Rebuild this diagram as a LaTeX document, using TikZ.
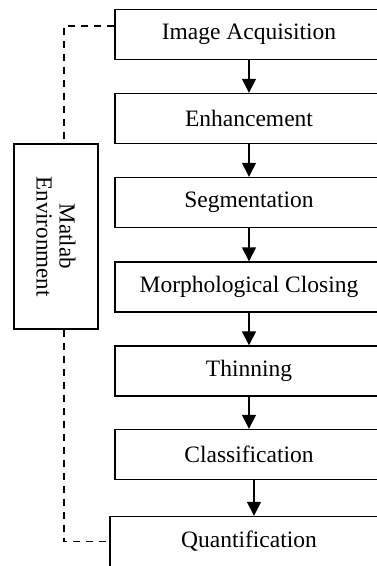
\documentclass[tikz,border=0pt]{standalone}
\usepackage{fontspec}
\setmainfont{Liberation Serif}
\usetikzlibrary{arrows.meta,calc}
\begin{document}
\begin{tikzpicture}[x=1pt,y=-1pt,
  stage/.style={draw, line width=1.4pt, minimum width=268pt, minimum height=50pt, inner sep=0pt, font=\fontsize{23.5}{26}\selectfont},
  flow/.style={line width=1.4pt, -{Triangle[width=14pt,length=14pt]}},
  link/.style={line width=1.2pt, dash pattern=on 7pt off 6pt}]
\useasboundingbox (0,0) rectangle (377,566);
\clip (0,0) rectangle (377,566);
\node[stage] (a1) at (249,34.5) {Image Acquisition};
\node[stage] (a2) at (249,118.5) {Enhancement};
\node[stage] (a3) at (249,202.5) {Segmentation};
\node[stage] (a4) at (249,287) {Morphological Closing};
\node[stage] (a5) at (249,371) {Thinning};
\node[stage] (a6) at (249,454.5) {Classification};
\node[stage, minimum width=278pt] (a7) at (249,541.5) {Quantification};
\node[draw, line width=1.4pt, minimum width=84pt, minimum height=185pt, inner sep=0pt] (m) at (56,236.5) {};
\node[rotate=-90, align=center, inner sep=0pt, font=\fontsize{23}{23}\selectfont] (mt) at (m.center) {Matlab\\Environment};
\draw[flow] (a1) -- (a2);
\draw[flow] (a2) -- (a3);
\draw[flow] (a3) -- (a4);
\draw[flow] (a4) -- (a5);
\draw[flow] (a5) -- (a6);
\draw[flow] ([xshift=5pt]a6.south) -- ([xshift=5pt]a6.south |- a7.north);
\draw[link] ([yshift=8.5pt]a1.west) -| ([xshift=8pt]m.north);
\draw[link] ([xshift=8pt]m.south) |- (a7.west);
\end{tikzpicture}
\end{document}
